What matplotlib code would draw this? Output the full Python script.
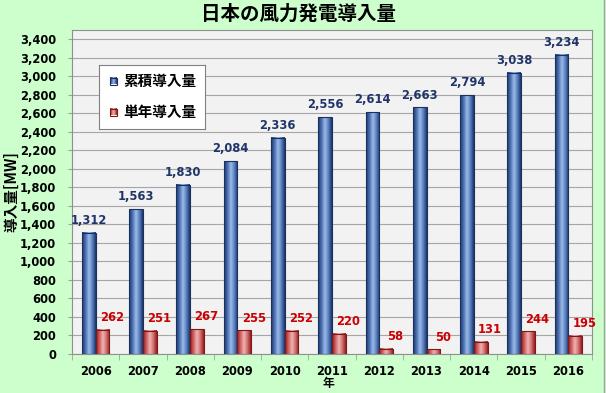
import matplotlib
matplotlib.use("Agg")
import matplotlib.pyplot as plt
import numpy as np
from matplotlib.colors import LinearSegmentedColormap
from matplotlib.patches import Rectangle

plt.rcParams['font.family'] = ['Noto Sans CJK JP', 'DejaVu Sans']

years = ['2006', '2007', '2008', '2009', '2010', '2011', '2012', '2013', '2014', '2015', '2016']
cumulative = [1312, 1563, 1830, 2084, 2336, 2556, 2614, 2663, 2794, 3038, 3234]
annual = [262, 251, 267, 255, 252, 220, 58, 50, 131, 244, 195]
series_names = ['累積導入量', '単年導入量']
title = '日本の風力発電導入量'
ylabel = '導入量[MW]'
xlabel = '年'

fig = plt.figure(figsize=(6.06, 3.93), dpi=100)
fig.patch.set_facecolor('#ccffcc')
ax = fig.add_axes([72/606, 1-354/393, 520/606, 324/393])
ax.set_facecolor('#f2f2f2')

x = np.arange(len(years))
w = 0.29

blue_cmap = LinearSegmentedColormap.from_list('b', ['#1c3568', '#4a6fb0', '#9bbbe8', '#5a80c0', '#1c3568'])
red_cmap = LinearSegmentedColormap.from_list('r', ['#9a1c1c', '#d06060', '#f0b4b4', '#d07070', '#9a1c1c'])
grad = np.linspace(0, 1, 64).reshape(1, -1)

def gradient_bars(xs, heights, cmap, edge):
    bars = ax.bar(xs, heights, w, color='none', edgecolor=edge, linewidth=0.8, zorder=3)
    for b in bars:
        bx, by = b.get_x(), b.get_y()
        bw, bh = b.get_width(), b.get_height()
        ax.imshow(grad, cmap=cmap, aspect='auto', extent=(bx, bx + bw, by, by + bh),
                  zorder=2.5, interpolation='bilinear')
    return bars

gradient_bars(x - w/2, cumulative, blue_cmap, '#1c3060')
gradient_bars(x + w/2, annual, red_cmap, '#7a1a1a')

ax.set_xlim(-0.5, len(years) - 0.5)
ax.set_ylim(0, 3500)
ax.set_yticks(np.arange(0, 3401, 200))
ax.set_yticklabels([f'{v:,}' for v in range(0, 3401, 200)], fontsize=8.3,
                   fontweight='bold', family='DejaVu Sans')
ax.set_xticks(x)
ax.set_xticklabels(years, fontsize=8.3, fontweight='bold', family='DejaVu Sans')
ax.set_xticks(np.arange(-0.5, len(years)), minor=True)
ax.tick_params(axis='x', which='major', length=0, pad=8)
ax.tick_params(axis='x', which='minor', length=4, color='#a0a0a0')
ax.tick_params(axis='y', length=3, color='#a0a0a0', pad=8.5)
ax.grid(axis='y', color='#a6a6a6', linewidth=0.8, zorder=0)
ax.set_axisbelow(True)
for s in ax.spines.values():
    s.set_color('#909090')
    s.set_linewidth(0.8)

for xi, v in zip(x, cumulative):
    ax.text(xi - w/2, v + 97, f'{v:,}', ha='center', va='baseline', fontsize=8.3,
            fontweight='bold', color='#1f3468', family='DejaVu Sans', zorder=5)
for xi, v in zip(x, annual):
    ax.text(xi + w/2 + 0.2, v + 95, f'{v:,}', ha='center', va='baseline', fontsize=8.3,
            fontweight='bold', color='#cc0000', family='DejaVu Sans', zorder=5)

fig.text(298/606, 1-14/393, title, ha='center', va='center', fontsize=14, fontweight='bold')
fig.text(11.5/606, 1-192/393, ylabel, ha='center', va='center', rotation=90, fontsize=10.5, fontweight='bold')
fig.text(328/606, 1-384/393, xlabel, ha='center', va='center', fontsize=8.5, fontweight='bold')

# legend
lx0, ly0, lx1, ly1 = 99, 65, 205, 129
legax = fig.add_axes([lx0/606, 1-ly1/393, (lx1-lx0)/606, (ly1-ly0)/393])
legax.set_xticks([])
legax.set_yticks([])
legax.set_facecolor('white')
for s in legax.spines.values():
    s.set_color('#808080')
    s.set_linewidth(0.8)
for yc, name, cmap, edge in [(81, series_names[0], blue_cmap, '#1c3060'), (112, series_names[1], red_cmap, '#7a1a1a')]:
    legax.imshow(grad, cmap=cmap, aspect='auto', extent=(110, 117, yc + 3.5, yc - 3.5), interpolation='bilinear')
    legax.add_patch(Rectangle((110, yc - 3.5), 7, 7, fill=False, edgecolor=edge, linewidth=0.8))
    legax.text(123, yc, name, ha='left', va='center', fontsize=10.5, fontweight='bold')
legax.set_xlim(lx0, lx1)
legax.set_ylim(ly1, ly0)

# figure right border
fig.add_artist(plt.Line2D([604/606, 604/606], [0, 1], transform=fig.transFigure, color='#a0a0a0', linewidth=1))

fig.savefig('out.png', dpi=100, facecolor=fig.get_facecolor())
